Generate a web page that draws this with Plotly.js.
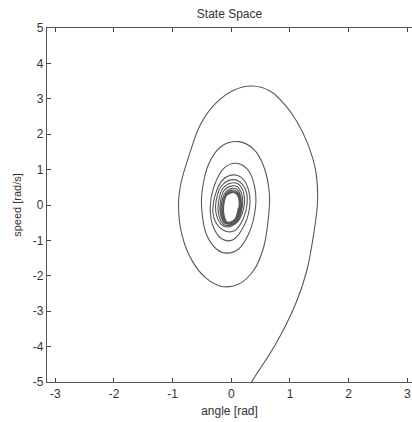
<!DOCTYPE html>
<html>
<head>
<meta charset="utf-8">
<script src="https://cdn.plot.ly/plotly-3.0.1.min.js"></script>
<style>html,body{margin:0;padding:0;background:#fff;}#chart{width:412px;height:422px;}</style>
</head>
<body>
<div id="chart"></div>
<script>
// Trajectory: angle [rad] and speed [rad/s]
const angle = [
  0.22, 0.35, 0.75, 1.09, 1.28, 1.41, 1.47, 1.44, 1.30, 1.12, 0.92, 0.66, 0.35, 0.04, -0.28, -0.53, -0.72, -0.86, -0.90, -0.84, -0.66, -0.42, -0.16, 0.12, 0.38, 0.55, 0.63,
  0.65, 0.55, 0.38, 0.12, -0.15, -0.38, -0.50, -0.50, -0.42, -0.25, -0.08, 0.12, 0.30, 0.41,
  0.40, 0.28, 0.08, -0.12, -0.30, -0.36, -0.30, -0.15, 0.02, 0.18, 0.31,
  0.29, 0.17, 0.03, -0.14, -0.28, -0.31, -0.22, -0.08, 0.06, 0.20, 0.27,
  0.24, 0.12, -0.01, -0.16, -0.26, -0.25, -0.15, -0.03, 0.12, 0.22,
  0.20, 0.11, 0.00, -0.14, -0.22, -0.21, -0.13, -0.02, 0.10, 0.19,
  0.17, 0.10, 0.01, -0.12, -0.19, -0.18, -0.11, -0.02, 0.09, 0.17,
  0.15, 0.09, 0.01, -0.10, -0.17, -0.16, -0.10, -0.02, 0.08, 0.15,
  0.14, 0.08, 0.01, -0.09, -0.15, -0.14, -0.09, -0.02, 0.07, 0.14,
  0.13, 0.08, 0.01, -0.09, -0.14, -0.13, -0.08, -0.02, 0.07, 0.13,
  0.12, 0.07, 0.01, -0.08, -0.13, -0.12, -0.08, -0.02, 0.06, 0.12
];
const speed = [
  -5.40, -4.99, -3.95, -2.82, -1.90, -0.75, 0.10, 0.95, 1.74, 2.35, 2.82, 3.22, 3.36, 3.24, 2.85, 2.26, 1.40, 0.60, 0.00, -0.85, -1.60, -2.08, -2.30, -2.24, -1.85, -1.20, -0.40,
  0.30, 1.10, 1.58, 1.79, 1.68, 1.18, 0.35, -0.20, -0.85, -1.25, -1.36, -1.25, -0.80, -0.10,
  0.50, 1.00, 1.18, 1.05, 0.50, -0.10, -0.65, -0.97, -0.99, -0.70, -0.10,
  0.45, 0.78, 0.85, 0.72, 0.25, -0.25, -0.60, -0.75, -0.72, -0.40, 0.05,
  0.45, 0.68, 0.71, 0.55, 0.10, -0.30, -0.58, -0.61, -0.45, 0.00,
  0.40, 0.60, 0.62, 0.48, 0.05, -0.30, -0.55, -0.57, -0.45, -0.02,
  0.35, 0.52, 0.54, 0.42, 0.02, -0.30, -0.52, -0.54, -0.44, -0.04,
  0.30, 0.45, 0.47, 0.36, 0.00, -0.30, -0.50, -0.52, -0.43, -0.05,
  0.26, 0.40, 0.42, 0.32, -0.02, -0.31, -0.49, -0.50, -0.42, -0.06,
  0.24, 0.36, 0.38, 0.29, -0.03, -0.31, -0.48, -0.49, -0.41, -0.07,
  0.22, 0.33, 0.35, 0.27, -0.04, -0.31, -0.47, -0.48, -0.40, -0.07
];
const xTicks = [-3, -2, -1, 0, 1, 2, 3];
const yTicks = [-5, -4, -3, -2, -1, 0, 1, 2, 3, 4, 5];

const fam = '"Liberation Sans", Arial, sans-serif';
const tickFont = {family: fam, size: 12, color: '#333333'};
const labelFont = {family: fam, size: 11, color: '#333333'};

Plotly.newPlot('chart', [{
  x: angle,
  y: speed,
  type: 'scatter',
  mode: 'lines',
  line: {color: '#585858', width: 1.1, shape: 'spline', smoothing: 1.0},
  hoverinfo: 'none'
}], {
  width: 412,
  height: 422,
  margin: {l: 47, r: 0, t: 28, b: 40, pad: 0},
  paper_bgcolor: '#fff',
  plot_bgcolor: '#fff',
  showlegend: false,
  font: labelFont,
  title: {text: 'State Space', font: {family: fam, size: 12, color: '#333333'}, x: 0.5, xref: 'paper', y: 0.968, yref: 'container', yanchor: 'middle'},
  xaxis: {
    range: [-3.1416, 3.08],
    tickvals: xTicks,
    ticktext: xTicks.map(String),
    ticks: 'inside', ticklen: 4, tickcolor: '#444', tickwidth: 1,
    showline: true, linecolor: '#555', linewidth: 1.2, mirror: 'ticks',
    showgrid: false, zeroline: false,
    tickfont: tickFont,
    title: {text: 'angle [rad]', font: {family: fam, size: 12, color: '#333333'}, standoff: 7}
  },
  yaxis: {
    range: [-5, 5],
    tickvals: yTicks,
    ticktext: yTicks.map(String),
    ticks: 'inside', ticklen: 4, tickcolor: '#444', tickwidth: 1,
    showline: true, linecolor: '#555', linewidth: 1.2, mirror: false,
    showgrid: false, zeroline: false,
    tickfont: tickFont,
    title: {text: 'speed [rad/s]', font: {family: fam, size: 11, color: '#333333'}, standoff: 8}
  }
}, {staticPlot: true, displayModeBar: false});
</script>
</body>
</html>
